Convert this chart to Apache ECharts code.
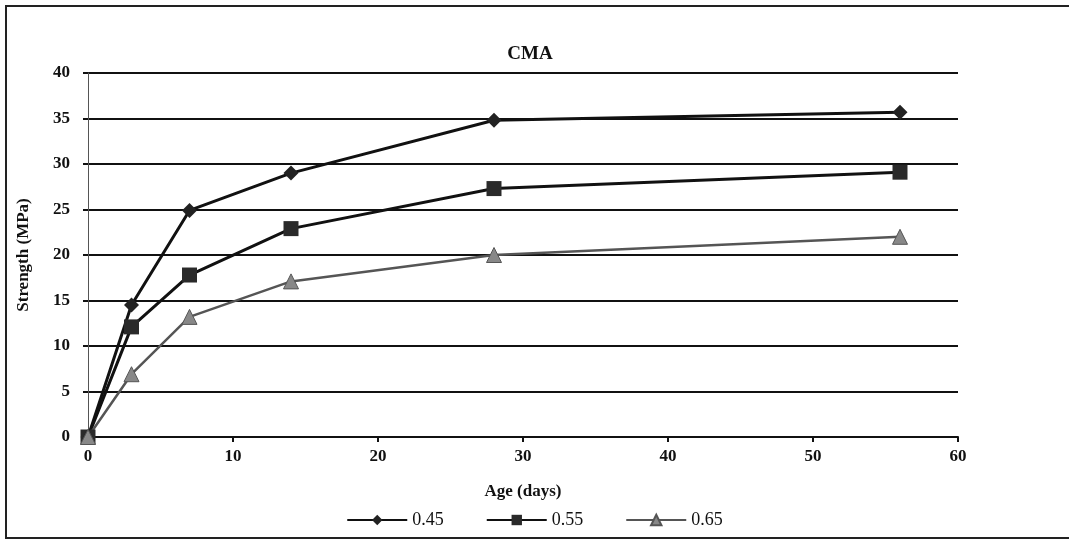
<!DOCTYPE html>
<html lang="en">
<head>
    <meta charset="UTF-8">
    <script src="https://cdn.jsdelivr.net/npm/echarts@6/dist/echarts.min.js"></script>
    <title>CMA</title>
    <style>
        html, body { margin: 0; padding: 0; background: #fff; }
        #chart { width: 1069px; height: 541px; }
    </style>
</head>
<body>
<div id="chart"></div>
<script type="text/javascript">
    // age in days
    var ages = [0, 3, 7, 14, 28, 56];
    // strength (MPa) per w/c ratio
    var s045 = [0, 14.5, 24.9, 29.0, 34.8, 35.7];
    var s055 = [0, 12.1, 17.8, 22.9, 27.3, 29.1];
    var s065 = [0, 6.9, 13.2, 17.1, 20.0, 22.0];
    var seriesNames = ['0.45', '0.55', '0.65'];

    function pairs(ys) {
        return ages.map(function (a, i) { return [a, ys[i]]; });
    }

    var serif = '"Liberation Serif", "DejaVu Serif", serif';
    var myChart = echarts.init(document.getElementById('chart'));
    var option = {
        backgroundColor: '#fff',
        animation: false,
        title: {
            text: 'CMA',
            left: 525,
            textAlign: 'center',
            top: 40,
            textStyle: { fontFamily: serif, fontWeight: 'bold', fontSize: 19, color: '#111' }
        },
        graphic: [{
            type: 'rect',
            shape: { x: 6, y: 6, width: 1075, height: 532 },
            style: { fill: 'none', stroke: '#222', lineWidth: 2 },
            silent: true
        }],
        legend: {
            data: seriesNames,
            bottom: 7,
            left: 'center',
            itemWidth: 60,
            itemHeight: 13,
            itemGap: 42,
            textStyle: { fontFamily: serif, fontSize: 18, color: '#111' }
        },
        grid: { left: 88, right: 111, top: 73, bottom: 104 },
        xAxis: {
            type: 'value',
            min: 0, max: 60, interval: 10,
            name: 'Age (days)',
            nameLocation: 'middle',
            nameGap: 46,
            nameTextStyle: { fontFamily: serif, fontWeight: 'bold', fontSize: 17, color: '#111' },
            axisLine: { lineStyle: { color: '#111', width: 2 } },
            axisTick: { show: true, length: 5, lineStyle: { color: '#111', width: 2 } },
            axisLabel: { fontFamily: serif, fontWeight: 'bold', fontSize: 17, color: '#111', margin: 11 },
            splitLine: { show: false }
        },
        yAxis: {
            type: 'value',
            min: 0, max: 40, interval: 5,
            name: 'Strength (MPa)',
            nameLocation: 'middle',
            nameGap: 56,
            nameTextStyle: { fontFamily: serif, fontWeight: 'bold', fontSize: 17, color: '#111' },
            axisLine: { show: true, lineStyle: { color: '#555', width: 1 } },
            axisTick: { show: true, length: 5, lineStyle: { color: '#111', width: 2 } },
            axisLabel: { fontFamily: serif, fontWeight: 'bold', fontSize: 17, color: '#111', margin: 18 },
            splitLine: { show: true, lineStyle: { color: '#111', width: 2 } }
        },
        series: [
            {
                name: '0.45',
                type: 'line',
                data: pairs(s045),
                symbol: 'diamond',
                symbolSize: 15,
                color: '#111',
                lineStyle: { width: 3, color: '#111' },
                itemStyle: { color: '#222' }
            },
            {
                name: '0.55',
                type: 'line',
                data: pairs(s055),
                symbol: 'rect',
                symbolSize: 15,
                color: '#111',
                lineStyle: { width: 3, color: '#111' },
                itemStyle: { color: '#2a2a2a' }
            },
            {
                name: '0.65',
                type: 'line',
                data: pairs(s065),
                symbol: 'triangle',
                symbolSize: 15,
                color: '#666',
                lineStyle: { width: 2.5, color: '#555' },
                itemStyle: { color: '#888', borderColor: '#555', borderWidth: 1 }
            }
        ]
    };
    myChart.setOption(option);
</script>
</body>
</html>
